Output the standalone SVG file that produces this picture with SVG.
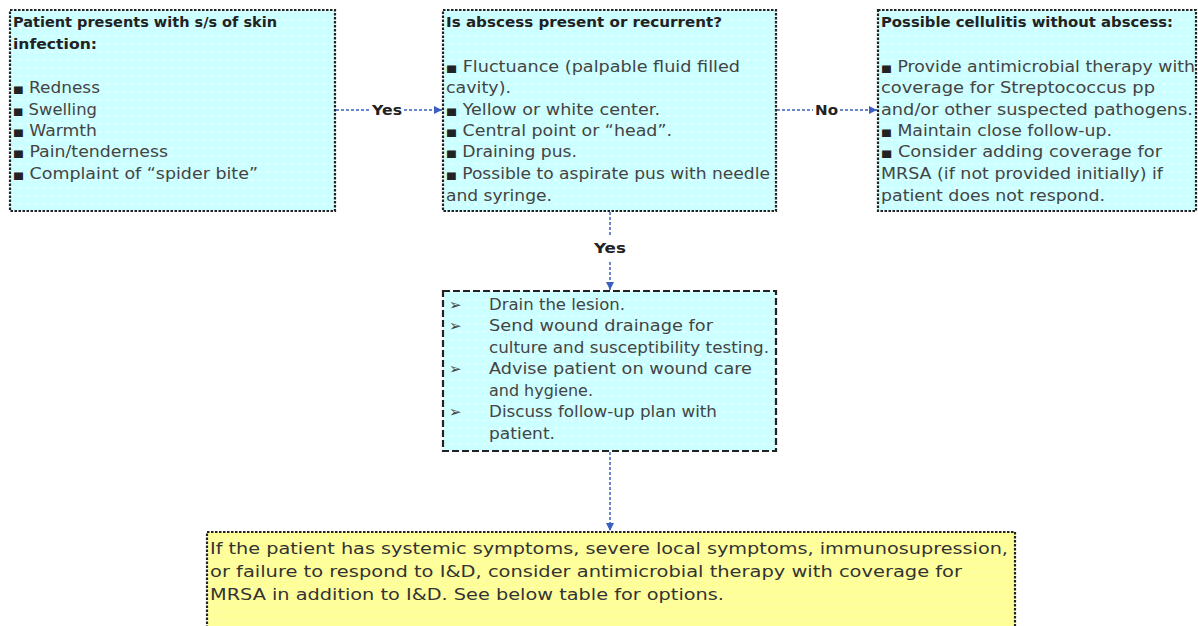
<svg xmlns="http://www.w3.org/2000/svg" width="1198" height="626" viewBox="0 0 1198 626">
<defs>
<pattern id="dotsC" width="8" height="8" patternUnits="userSpaceOnUse">
<rect width="8" height="8" fill="#CCFFFF"/>
<circle cx="4" cy="4" r="0.9" fill="#ffffff"/>
</pattern>
<pattern id="dotsY" width="8" height="8" patternUnits="userSpaceOnUse">
<rect width="8" height="8" fill="#FFFF99"/>
<circle cx="4" cy="4" r="0.9" fill="#fbfbd0"/>
</pattern>
<marker id="arr" viewBox="0 0 10 10" refX="10" refY="5" markerWidth="8" markerHeight="8" orient="auto" markerUnits="userSpaceOnUse">
<path d="M0,0 L10,5 L0,10 z" fill="#3a5fc0"/>
</marker>
</defs>
<style>
.box{fill:url(#dotsC);stroke:#222;stroke-width:2.2;stroke-dasharray:2.5 1.5}
.boxd{fill:url(#dotsC);stroke:#222;stroke-width:2.2;stroke-dasharray:7 3}
.boxy{fill:url(#dotsY);stroke:#222;stroke-width:2.2;stroke-dasharray:2.5 1.5}
.t{font-family:"DejaVu Sans","Liberation Sans",sans-serif;font-size:15px;fill:#444}
.h{font-family:"DejaVu Sans","Liberation Sans",sans-serif;font-size:14.5px;font-weight:bold;fill:#222}
.b{font-size:10px;fill:#222}
.lbl{font-family:"DejaVu Sans","Liberation Sans",sans-serif;font-size:14px;font-weight:bold;fill:#222}
.c{fill:none;stroke:#3a5fc0;stroke-width:1.5;stroke-dasharray:3 2}
.ty{font-family:"DejaVu Sans","Liberation Sans",sans-serif;font-size:16.5px;fill:#333}
</style>
<g id="connectors">
<line class="c" x1="336" y1="110" x2="370" y2="110"/>
<line class="c" x1="404" y1="110" x2="442" y2="110" marker-end="url(#arr)"/>
<text class="lbl" x="372" y="115" textLength="30" lengthAdjust="spacingAndGlyphs">Yes</text>
<line class="c" x1="777" y1="110" x2="813" y2="110"/>
<line class="c" x1="840" y1="110" x2="877" y2="110" marker-end="url(#arr)"/>
<text class="lbl" x="815" y="115" textLength="23" lengthAdjust="spacingAndGlyphs">No</text>
<line class="c" x1="610" y1="212" x2="610" y2="236"/>
<line class="c" x1="610" y1="262" x2="610" y2="290" marker-end="url(#arr)"/>
<text class="lbl" x="594" y="253" textLength="32" lengthAdjust="spacingAndGlyphs">Yes</text>
<line class="c" x1="610" y1="452" x2="610" y2="531" marker-end="url(#arr)"/>
</g>
<g id="node-start">
<rect class="box" x="10" y="10" width="325" height="201"/>
<text class="h" x="13" y="27" textLength="264" lengthAdjust="spacingAndGlyphs">Patient presents with s/s of skin</text>
<text class="h" x="13" y="49" textLength="84" lengthAdjust="spacingAndGlyphs">infection:</text>
<text class="t" x="13" y="93" textLength="87" lengthAdjust="spacingAndGlyphs"><tspan class="b">■</tspan> Redness</text>
<text class="t" x="13" y="115" textLength="84" lengthAdjust="spacingAndGlyphs"><tspan class="b">■</tspan> Swelling</text>
<text class="t" x="13" y="136" textLength="84" lengthAdjust="spacingAndGlyphs"><tspan class="b">■</tspan> Warmth</text>
<text class="t" x="13" y="157" textLength="155" lengthAdjust="spacingAndGlyphs"><tspan class="b">■</tspan> Pain/tenderness</text>
<text class="t" x="13" y="179" textLength="245" lengthAdjust="spacingAndGlyphs"><tspan class="b">■</tspan> Complaint of “spider bite”</text>
</g>
<g id="node-abscess">
<rect class="box" x="443" y="10" width="333" height="201"/>
<text class="h" x="446" y="27" textLength="276" lengthAdjust="spacingAndGlyphs">Is abscess present or recurrent?</text>
<text class="t" x="446" y="72" textLength="294" lengthAdjust="spacingAndGlyphs"><tspan class="b">■</tspan> Fluctuance (palpable fluid filled</text>
<text class="t" x="446" y="93" textLength="65" lengthAdjust="spacingAndGlyphs">cavity).</text>
<text class="t" x="446" y="115" textLength="214" lengthAdjust="spacingAndGlyphs"><tspan class="b">■</tspan> Yellow or white center.</text>
<text class="t" x="446" y="136" textLength="226" lengthAdjust="spacingAndGlyphs"><tspan class="b">■</tspan> Central point or “head”.</text>
<text class="t" x="446" y="157" textLength="131" lengthAdjust="spacingAndGlyphs"><tspan class="b">■</tspan> Draining pus.</text>
<text class="t" x="446" y="179" textLength="324" lengthAdjust="spacingAndGlyphs"><tspan class="b">■</tspan> Possible to aspirate pus with needle</text>
<text class="t" x="446" y="201" textLength="106" lengthAdjust="spacingAndGlyphs">and syringe.</text>
</g>
<g id="node-cellulitis">
<rect class="box" x="878" y="10" width="318" height="201"/>
<text class="h" x="881" y="27" textLength="292" lengthAdjust="spacingAndGlyphs">Possible cellulitis without abscess:</text>
<text class="t" x="881" y="72" textLength="314" lengthAdjust="spacingAndGlyphs"><tspan class="b">■</tspan> Provide antimicrobial therapy with</text>
<text class="t" x="881" y="93" textLength="274" lengthAdjust="spacingAndGlyphs">coverage for Streptococcus pp</text>
<text class="t" x="881" y="115" textLength="312" lengthAdjust="spacingAndGlyphs">and/or other suspected pathogens.</text>
<text class="t" x="881" y="136" textLength="231" lengthAdjust="spacingAndGlyphs"><tspan class="b">■</tspan> Maintain close follow-up.</text>
<text class="t" x="881" y="157" textLength="281" lengthAdjust="spacingAndGlyphs"><tspan class="b">■</tspan> Consider adding coverage for</text>
<text class="t" x="881" y="179" textLength="282" lengthAdjust="spacingAndGlyphs">MRSA (if not provided initially) if</text>
<text class="t" x="881" y="201" textLength="224" lengthAdjust="spacingAndGlyphs">patient does not respond.</text>
</g>
<g id="node-drain">
<rect class="boxd" x="443" y="291" width="333" height="160"/>
<text class="t" x="449" y="310">➢</text>
<text class="t" x="489" y="310" textLength="136" lengthAdjust="spacingAndGlyphs">Drain the lesion.</text>
<text class="t" x="449" y="331">➢</text>
<text class="t" x="489" y="331" textLength="224" lengthAdjust="spacingAndGlyphs">Send wound drainage for</text>
<text class="t" x="489" y="353" textLength="280" lengthAdjust="spacingAndGlyphs">culture and susceptibility testing.</text>
<text class="t" x="449" y="374">➢</text>
<text class="t" x="489" y="374" textLength="263" lengthAdjust="spacingAndGlyphs">Advise patient on wound care</text>
<text class="t" x="489" y="396" textLength="104" lengthAdjust="spacingAndGlyphs">and hygiene.</text>
<text class="t" x="449" y="417">➢</text>
<text class="t" x="489" y="417" textLength="228" lengthAdjust="spacingAndGlyphs">Discuss follow-up plan with</text>
<text class="t" x="489" y="439" textLength="66" lengthAdjust="spacingAndGlyphs">patient.</text>
</g>
<g id="node-mrsa">
<rect class="boxy" x="207" y="532" width="808" height="110"/>
<text class="ty" x="210" y="554" textLength="798" lengthAdjust="spacingAndGlyphs">If the patient has systemic symptoms, severe local symptoms, immunosupression,</text>
<text class="ty" x="210" y="577" textLength="752" lengthAdjust="spacingAndGlyphs">or failure to respond to I&amp;D, consider antimicrobial therapy with coverage for</text>
<text class="ty" x="210" y="600" textLength="514" lengthAdjust="spacingAndGlyphs">MRSA in addition to I&amp;D. See below table for options.</text>
</g>
</svg>
